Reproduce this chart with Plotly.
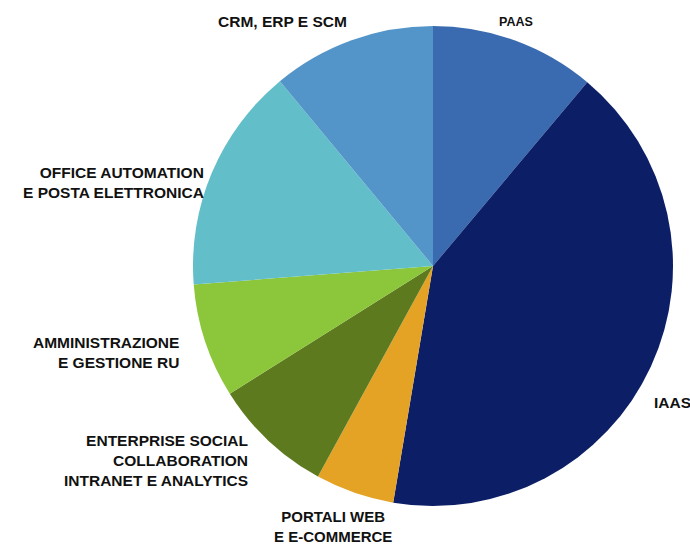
import plotly.graph_objects as go

labels = ["PAAS", "IAAS", "PORTALI WEB<br>E E-COMMERCE",
          "ENTERPRISE SOCIAL<br>COLLABORATION<br>INTRANET E ANALYTICS",
          "AMMINISTRAZIONE<br>E GESTIONE RU",
          "OFFICE AUTOMATION<br>E POSTA ELETTRONICA", "CRM, ERP E SCM"]
values = [11.1, 41.5, 5.3, 8.1, 7.7, 15.2, 11.0]
colors = ["#3a6bb0", "#0c1f66", "#e5a326", "#5e7a1f", "#8cc63a", "#62bfca", "#5495c9"]

# label placement (paper coords) and alignment
label_pos = [
    (516, 22, "center", 12.5),
    (652, 402, "left", 15.5),
    (333, 526, "center", 15),
    (250, 460, "right", 15.5),
    (181, 352, "right", 15.5),
    (206, 183, "right", 15.5),
    (349, 22, "right", 15.5),
]

W, H = 690, 546
fig = go.Figure(go.Pie(
    labels=labels, values=values, sort=False, direction="clockwise", rotation=0,
    marker=dict(colors=colors, line=dict(width=0)), textinfo="none",
    hoverinfo="label+value",
    domain=dict(x=[193 / W, 673 / W], y=[(H - 506) / H, (H - 26) / H]),
))

anns = []
for lab, (x, y, al, fs) in zip(labels, label_pos):
    anns.append(dict(
        text=lab, x=x / W, y=1 - y / H, xref="paper", yref="paper",
        xanchor=al, yanchor="middle", align=al, showarrow=False,
        font=dict(family="Liberation Sans, Arial", size=fs, color="#111111", weight="bold"),
    ))

fig.update_layout(
    width=W, height=H, margin=dict(l=0, r=0, t=0, b=0),
    paper_bgcolor="white", plot_bgcolor="white", showlegend=False,
    annotations=anns,
)
fig.write_html("out.html")
